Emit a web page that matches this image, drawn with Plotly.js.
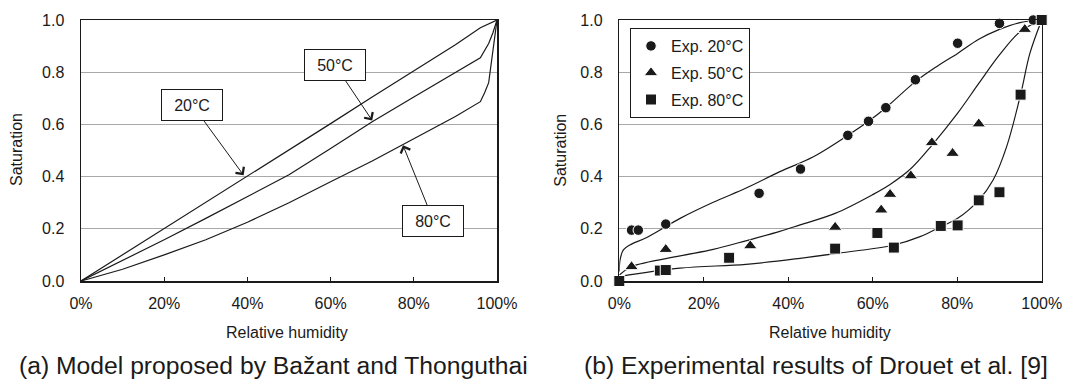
<!DOCTYPE html>
<html>
<head>
<meta charset="utf-8">
<script src="https://cdn.plot.ly/plotly-3.0.1.min.js"></script>
<style>html,body{margin:0;padding:0;background:#fff;}#chart{width:1065px;height:382px;}</style>
</head>
<body>
<div id="chart"></div>
<script>
// ---------- (a) Model proposed by Bažant and Thonguthai ----------
const model20RH  = [0, 0.1, 0.2, 0.3, 0.4, 0.5, 0.6, 0.7, 0.8, 0.9, 0.96, 1.0];
const model20Sat = [0, 0.1, 0.2, 0.302, 0.403, 0.503, 0.603, 0.705, 0.805, 0.905, 0.97, 1.0];
const model50RH  = [0, 0.1, 0.2, 0.3, 0.4, 0.5, 0.6, 0.7, 0.8, 0.9, 0.96, 0.98, 0.99, 1.0];
const model50Sat = [0, 0.078, 0.158, 0.240, 0.322, 0.407, 0.508, 0.61, 0.705, 0.80, 0.855, 0.91, 0.95, 1.0];
const model80RH  = [0, 0.1, 0.2, 0.3, 0.4, 0.5, 0.6, 0.7, 0.8, 0.9, 0.96, 0.97, 0.98, 0.99, 1.0];
const model80Sat = [0, 0.045, 0.100, 0.158, 0.225, 0.30, 0.38, 0.46, 0.545, 0.63, 0.687, 0.72, 0.76, 0.88, 1.0];

const labelTexts = ["20°C", "50°C", "80°C"];
const labelTipRH  = [0.391, 0.70, 0.774];
const labelTipSat = [0.405, 0.615, 0.52];

// ---------- (b) Experimental results of Drouet et al. [9] ----------
const exp20RH  = [0.029, 0.045, 0.110, 0.331, 0.429, 0.541, 0.590, 0.631, 0.701, 0.801, 0.900, 0.980];
const exp20Sat = [0.195, 0.195, 0.218, 0.336, 0.429, 0.558, 0.612, 0.664, 0.771, 0.911, 0.987, 1.0];
const exp50RH  = [0.029, 0.110, 0.310, 0.511, 0.620, 0.641, 0.690, 0.740, 0.789, 0.851, 0.960];
const exp50Sat = [0.055, 0.121, 0.135, 0.206, 0.272, 0.332, 0.403, 0.530, 0.489, 0.602, 0.964];
const exp80RH  = [0, 0.096, 0.110, 0.260, 0.511, 0.611, 0.650, 0.761, 0.801, 0.851, 0.900, 0.950, 1.0];
const exp80Sat = [0, 0.040, 0.042, 0.089, 0.124, 0.184, 0.128, 0.211, 0.213, 0.309, 0.340, 0.714, 1.0];

const fit20RH  = [0, 0.0017, 0.0096, 0.025, 0.065, 0.144, 0.2225, 0.3016, 0.38, 0.4595, 0.541, 0.59, 0.631, 0.701, 0.751, 0.801, 0.851, 0.9, 0.9486, 1.0];
const fit20Sat = [0.036, 0.08, 0.119, 0.138, 0.167, 0.240, 0.3015, 0.357, 0.419, 0.476, 0.558, 0.612, 0.664, 0.764, 0.821, 0.872, 0.926, 0.964, 0.990, 1.0];
const fit50RH  = [0, 0.029, 0.144, 0.2225, 0.3016, 0.38, 0.428, 0.511, 0.601, 0.641, 0.690, 0.74, 0.801, 0.851, 0.9, 0.9486, 1.0];
const fit50Sat = [0.023, 0.055, 0.096, 0.121, 0.155, 0.19, 0.215, 0.259, 0.332, 0.37, 0.43, 0.52, 0.643, 0.757, 0.866, 0.955, 1.0];
const fit80RH  = [0, 0.144, 0.3, 0.428, 0.511, 0.65, 0.712, 0.761, 0.801, 0.851, 0.885, 0.917, 0.95, 0.972, 1.0];
const fit80Sat = [0.017, 0.049, 0.064, 0.087, 0.105, 0.138, 0.170, 0.208, 0.240, 0.310, 0.387, 0.515, 0.714, 0.872, 1.0];

const legendNames = ["Exp. 20°C", "Exp. 50°C", "Exp. 80°C"];
const xTitle = "Relative humidity";
const yTitle = "Saturation";
const subTitleA = "(a) Model proposed by Bažant and Thonguthai";
const subTitleB = "(b) Experimental results of Drouet et al. [9]";

const FONT = "Liberation Sans, Arial, Helvetica, sans-serif";
const INK = "#1a1a1a";

function modelLine(x, y) {
  return {x: x, y: y, xaxis: "x", yaxis: "y", type: "scatter", mode: "lines",
          line: {color: INK, width: 1.2}, showlegend: false, hoverinfo: "skip"};
}
function fitLine(x, y) {
  return {x: x, y: y, xaxis: "x2", yaxis: "y2", type: "scatter", mode: "lines",
          line: {color: INK, width: 1.2, shape: "spline", smoothing: 1}, showlegend: false, hoverinfo: "skip"};
}
function expPts(x, y, name, symbol, size, grp) {
  return {x: x, y: y, xaxis: "x2", yaxis: "y2", type: "scatter", mode: "markers", name: name,
          legendgroup: grp, cliponaxis: false,
          marker: {symbol: symbol, size: size, color: INK, line: {color: "#ffffff", width: 1}}};
}

const traces = [
  modelLine(model20RH, model20Sat),
  modelLine(model50RH, model50Sat),
  modelLine(model80RH, model80Sat),
  fitLine(fit20RH, fit20Sat),
  fitLine(fit50RH, fit50Sat),
  fitLine(fit80RH, fit80Sat),
  expPts(exp20RH, exp20Sat, legendNames[0], "circle", 10.5, "g1"),
  expPts(exp50RH, exp50Sat, legendNames[1], "triangle-up", 12, "g2"),
  expPts(exp80RH, exp80Sat, legendNames[2], "square", 11, "g3")
];

const W = 1065, T = 20, B = 101, H = 382;
const plotH = H - T - B;
function px(xp) { return xp / W; }
function py(yp) { return (H - B - yp) / plotH; }

function xAxis(dom, anchor) {
  return {domain: dom, anchor: anchor, range: [0, 1], dtick: 0.2, tick0: 0, tickformat: ".0%",
          showgrid: false, zeroline: false, showline: true, mirror: true, linecolor: INK, linewidth: 1.5,
          ticks: "inside", ticklen: 4, tickwidth: 1, tickcolor: INK, ticklabelstandoff: 7,
          tickfont: {family: FONT, size: 16, color: INK}, fixedrange: true};
}
function yAxis(anchor) {
  return {domain: [0, 1], anchor: anchor, range: [0, 1], dtick: 0.2, tick0: 0, tickformat: ".1f",
          showgrid: true, gridcolor: "#a8a8a8", gridwidth: 1, zeroline: false,
          showline: true, mirror: true, linecolor: INK, linewidth: 1.5, ticks: "", ticklabelstandoff: 12,
          tickfont: {family: FONT, size: 16, color: INK}, fixedrange: true};
}

const annotations = [];
const boxOffsets = [[-51.6, -70.7], [-37.2, -55.5], [30.5, 75.5]];
for (let i = 0; i < labelTexts.length; i++) {
  annotations.push({xref: "x", yref: "y", x: labelTipRH[i], y: labelTipSat[i], text: labelTexts[i],
    showarrow: true, arrowhead: 4, arrowsize: 2, arrowwidth: 1, arrowcolor: INK,
    ax: boxOffsets[i][0], ay: boxOffsets[i][1], bgcolor: "#ffffff", bordercolor: INK, borderwidth: 1,
    borderpad: 1, width: 58, height: 28, font: {family: FONT, size: 16, color: INK}});
}
function textAnn(xp, yp, txt, size, anchor, angle) {
  annotations.push({xref: "paper", yref: "paper", x: px(xp), y: py(yp), text: txt, showarrow: false,
    xanchor: anchor, yanchor: "middle", textangle: angle || 0, font: {family: FONT, size: size, color: INK}});
}
textAnn(16, 150, yTitle, 16, "center", -90);
textAnn(559.7, 150, yTitle, 16, "center", -90);
textAnn(287, 332, xTitle, 16, "center");
textAnn(830, 332, xTitle, 16, "center");
textAnn(16.6, 365, subTitleA, 24.7, "left");
textAnn(581.8, 365, subTitleB, 24.7, "left");

const layout = {
  width: W, height: H,
  margin: {l: 0, r: 0, t: T, b: B, pad: 0},
  paper_bgcolor: "#ffffff", plot_bgcolor: "#ffffff",
  font: {family: FONT, size: 16, color: INK},
  xaxis: xAxis([81 / W, 497 / W], "y"),
  yaxis: yAxis("x"),
  xaxis2: xAxis([619.3 / W, 1041.7 / W], "y2"),
  yaxis2: yAxis("x2"),
  showlegend: true,
  legend: {x: px(630), y: py(28), xanchor: "left", yanchor: "top", bgcolor: "#ffffff",
           bordercolor: INK, borderwidth: 1, font: {family: FONT, size: 16, color: INK},
           tracegroupgap: 3, traceorder: "grouped", entrywidth: 102, entrywidthmode: "pixels"},
  annotations: annotations
};

Plotly.newPlot("chart", traces, layout, {displayModeBar: false, staticPlot: true});
</script>
</body>
</html>
